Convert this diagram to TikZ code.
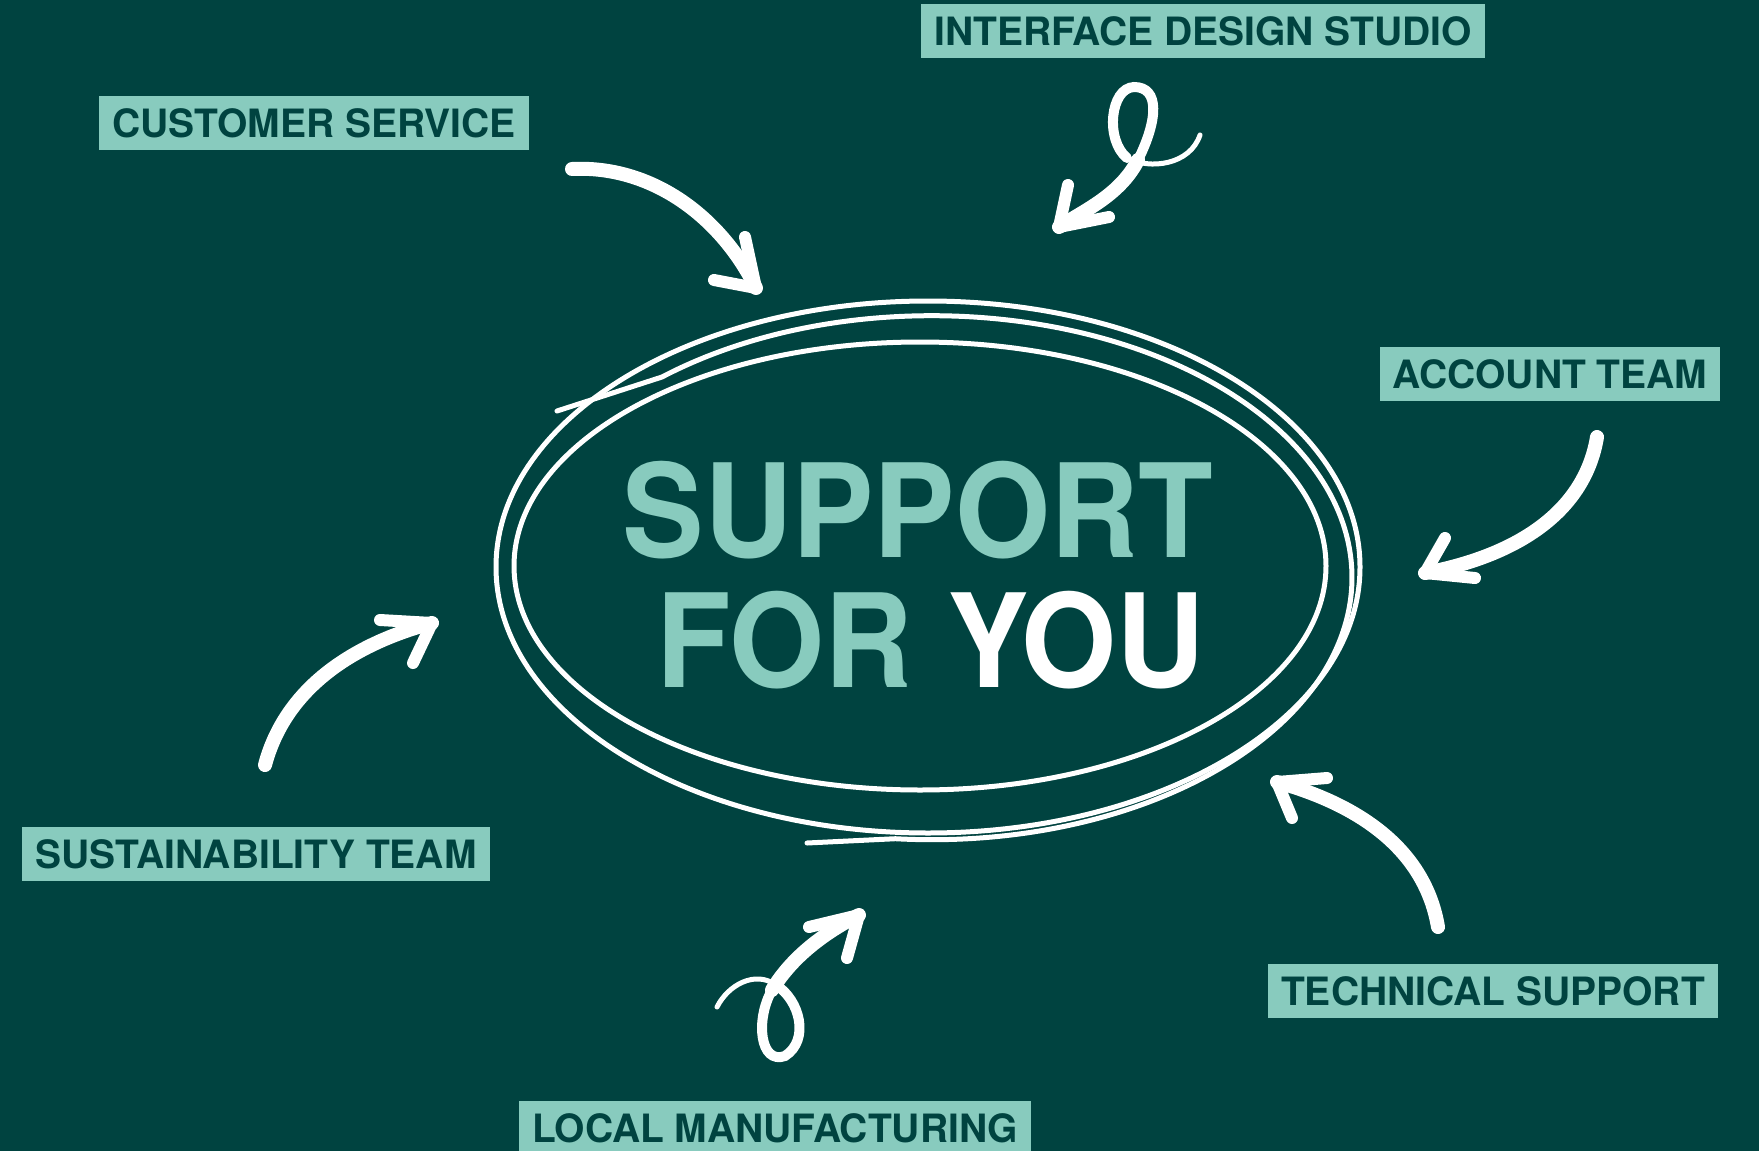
\documentclass[tikz,border=0pt]{standalone}
\usepackage{fontspec}
\setmainfont{TeX Gyre Heros}
\newfontfamily\bigfont[FakeStretch=0.94]{TeX Gyre Heros}
\definecolor{bgdark}{RGB}{0,67,64}
\definecolor{mint}{RGB}{136,203,190}
\begin{document}
\begin{tikzpicture}[x=1pt,y=-1pt,
	label node/.style={fill=mint,text=bgdark,font=\bfseries\fontsize{39}{39}\selectfont,
		inner xsep=13pt,inner ysep=13pt,text height=28pt,text depth=0pt},
	big text/.style={anchor=base,font=\bigfont\bfseries\fontsize{130}{130}\selectfont},
	scribble/.style={draw=white,line width=5pt,line cap=round,line join=round},
	brush/.style={draw=white,line width=14pt,line cap=round,line join=round},
	barb/.style={draw=white,line width=12pt,line cap=round}]

	\fill[bgdark] (0,0) rectangle (1759,1151);
	\useasboundingbox (0,0) rectangle (1759,1151);

	\node[label node] (ids) at (1203,31) {INTERFACE DESIGN STUDIO};
	\node[label node] (cs) at (314,123) {CUSTOMER SERVICE};
	\node[label node] (at) at (1550,374) {ACCOUNT TEAM};
	\node[label node] (st) at (256,854) {SUSTAINABILITY TEAM};
	\node[label node] (lm) at (775,1128) {LOCAL MANUFACTURING};
	\node[label node] (ts) at (1493,991) {TECHNICAL SUPPORT};

	\node[big text,text=mint] (support) at (918,557) {SUPPORT};
	\node[big text,text=white] (foryou) at (931,687) {\textcolor{mint}{FOR} YOU};

	% scribbled ring
	\draw[scribble] (928,567) ellipse [x radius=432,y radius=266];
	\draw[scribble] (920,566) ellipse [x radius=406,y radius=224];
	\draw[scribble] (557,411) -- (662,377) arc[start angle=230,end angle=455,x radius=420,y radius=262] -- (807,843);

	\coordinate (cs start) at (572,169);
	\coordinate (cs tip) at (756,288);
	\draw[brush] (cs start) .. controls (650,165) and (720,215) .. (cs tip);
	\draw[barb] (cs tip) -- ++(-11,-51);
	\draw[barb] (cs tip) -- ++(-42,-8);

	\coordinate (ids start) at (1200,135);
	\coordinate (ids tip) at (1059,227);
	\draw[white,line width=5pt,line cap=round] (ids start) .. controls (1190,165) and (1150,170) .. (1127,158);
	\draw[white,line width=10pt,line cap=round] (1127,158) .. controls (1105,140) and (1110,88) .. (1134,87)
		.. controls (1160,87) and (1158,120) .. (1138,160);
	\draw[brush] (1138,160) .. controls (1120,195) and (1085,210) .. (ids tip);
	\draw[barb] (ids tip) -- ++(9,-42);
	\draw[barb] (ids tip) -- ++(50,-10);

	\coordinate (at start) at (1597,437);
	\coordinate (at tip) at (1425,573);
	\draw[brush] (at start) .. controls (1585,510) and (1520,555) .. (at tip);
	\draw[barb] (at tip) -- ++(20,-35);
	\draw[barb] (at tip) -- ++(50,5);

	\coordinate (st start) at (265,765);
	\coordinate (st tip) at (432,623);
	\draw[brush] (st start) .. controls (285,690) and (350,645) .. (st tip);
	\draw[barb] (st tip) -- ++(-52,-3);
	\draw[barb] (st tip) -- ++(-19,40);

	\coordinate (lm start) at (717,1007);
	\coordinate (lm tip) at (859,915);
	\draw[white,line width=5pt,line cap=round] (lm start) .. controls (728,985) and (755,970) .. (776,985);
	\draw[white,line width=10pt,line cap=round] (776,985) .. controls (800,1000) and (810,1040) .. (785,1056)
		.. controls (760,1065) and (755,1020) .. (772,990);
	\draw[brush] (772,990) .. controls (790,960) and (820,935) .. (lm tip);
	\draw[barb] (lm tip) -- ++(-50,12);
	\draw[barb] (lm tip) -- ++(-12,43);

	\coordinate (ts start) at (1438,927);
	\coordinate (ts tip) at (1277,782);
	\draw[brush] (ts start) .. controls (1425,850) and (1360,805) .. (ts tip);
	\draw[barb] (ts tip) -- ++(50,-4);
	\draw[barb] (ts tip) -- ++(15,36);
\end{tikzpicture}
\end{document}
